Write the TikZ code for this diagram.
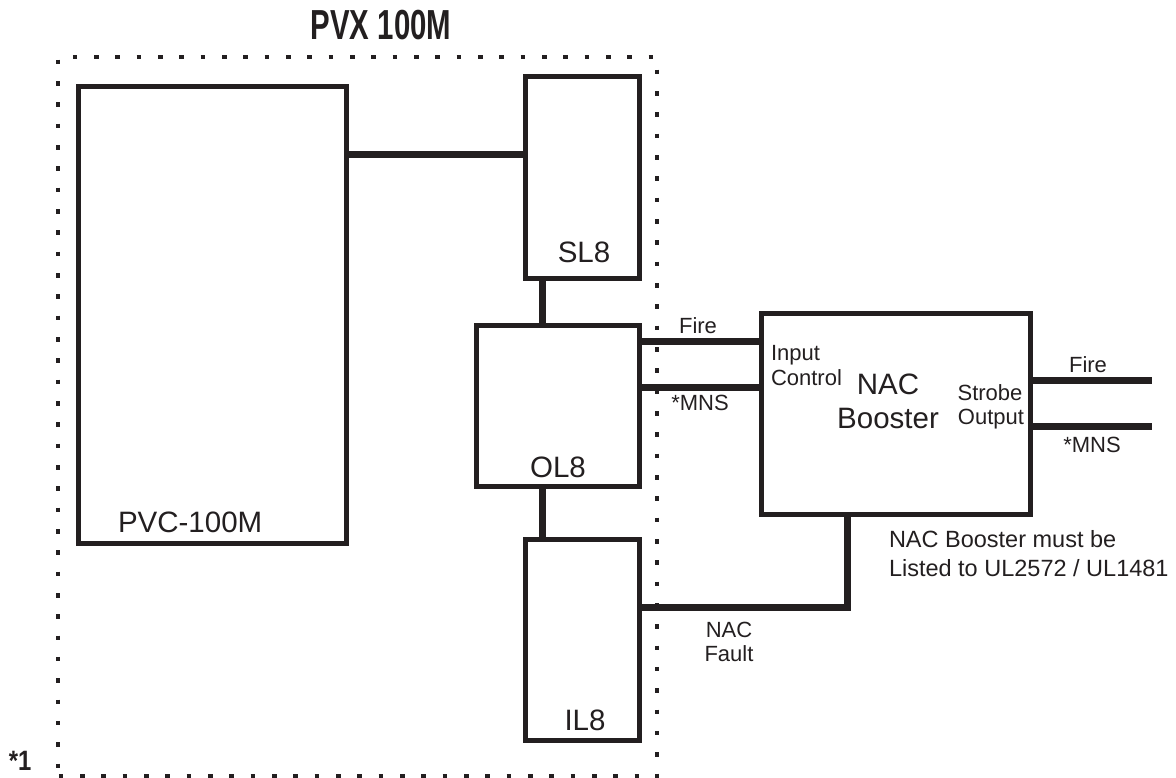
\documentclass[tikz,border=0pt]{standalone}
\usepackage{fontspec}
\setmainfont{Liberation Sans}
\usepackage{graphicx}
\definecolor{ink}{RGB}{35,31,32}
\begin{document}
\begin{tikzpicture}[x=1pt,y=-1pt,
  box/.style={draw=ink,line width=5pt,inner sep=0pt,outer sep=0pt},
  conn/.style={draw=ink,line width=7pt,line join=miter},
  dotborder/.style={draw=ink,line width=4.5pt,dash pattern=on 4.5pt off 16.83pt},
  boxlabel/.style={inner sep=0pt,outer sep=0pt,text=ink,font=\fontsize{29.5}{29.5}\selectfont},
  smalllabel/.style={inner sep=0pt,outer sep=0pt,text=ink,font=\fontsize{22}{22}\selectfont},
  notelabel/.style={inner sep=0pt,outer sep=0pt,text=ink,font=\fontsize{23.5}{23.5}\selectfont}]
\useasboundingbox (0,0) rectangle (1176,778);

% dotted enclosure
\draw[dotborder] (72.75,57) -- (653.5,57);
\draw[dotborder] (58,59.75) -- (58,767.5);
\draw[dotborder] (657,69.75) -- (657,778.5);
\draw[dotborder] (58.75,776) -- (639.5,776);

% title
\node[inner sep=0pt,text=ink,anchor=base] (title) at (381,40)
  {\scalebox{0.70}[1]{\fontsize{42}{42}\selectfont\bfseries PVX 100M}};
\node[inner sep=0pt,text=ink,anchor=base] (note1) at (20,770)
  {\scalebox{0.85}[1]{\fontsize{28}{28}\selectfont\bfseries *1}};

% boxes
\node[box,minimum width=268pt,minimum height=456pt] (pvc) at (212,315) {};
\node[box,minimum width=114pt,minimum height=202pt] (sl8) at (582,178) {};
\node[box,minimum width=163pt,minimum height=161pt] (ol8) at (557.5,405.5) {};
\node[box,minimum width=114pt,minimum height=201pt] (il8) at (582,639.5) {};
\node[box,minimum width=269pt,minimum height=201pt] (nac) at (895.5,413.5) {};

% box labels
\node[boxlabel,anchor=base west] (pvclbl) at (118,532) {PVC-100M};
\node[boxlabel,anchor=base] (sl8lbl) at (584,262) {SL8};
\node[boxlabel,anchor=base] (ol8lbl) at (558,477) {OL8};
\node[boxlabel,anchor=base] (il8lbl) at (585,730) {IL8};
\node[boxlabel,anchor=base] (naclbl1) at (888,394) {NAC};
\node[boxlabel,anchor=base] (naclbl2) at (888,428) {Booster};
\node[smalllabel,anchor=base west] (inlbl1) at (771,360) {Input};
\node[smalllabel,anchor=base west] (inlbl2) at (771,385) {Control};
\node[smalllabel,anchor=base] (outlbl1) at (990,400) {Strobe};
\node[smalllabel,anchor=base] (outlbl2) at (991,424) {Output};

% helper coordinates
\coordinate (ya) at (0,155);
\coordinate (xa) at (542,0);
\coordinate (yfire) at (0,341);
\coordinate (ymns) at (0,387);
\coordinate (yofire) at (0,380);
\coordinate (yomns) at (0,426);
\coordinate (ofireend) at (1152,380);
\coordinate (omnsend) at (1152,426);
\coordinate (fcorner) at (847,607);

% connectors
\draw[conn] (pvc.east |- ya) -- (sl8.west |- ya);
\draw[conn] (sl8.south -| xa) -- (ol8.north -| xa);
\draw[conn] (ol8.south -| xa) -- (il8.north -| xa);
\draw[conn] (ol8.east |- yfire) -- (nac.west |- yfire);
\draw[conn] (ol8.east |- ymns) -- (nac.west |- ymns);
\draw[conn] (nac.east |- yofire) -- (ofireend);
\draw[conn] (nac.east |- yomns) -- (omnsend);
\draw[conn] (il8.east |- fcorner) -- (fcorner) -- (nac.south -| fcorner);

% connector labels
\node[smalllabel,anchor=base] (fire1) at (698,333) {Fire};
\node[smalllabel,anchor=base] (mns1) at (700,410) {*MNS};
\node[smalllabel,anchor=base] (fire2) at (1088,372) {Fire};
\node[smalllabel,anchor=base] (mns2) at (1092,452) {*MNS};
\node[smalllabel,anchor=base] (fault1) at (729,637) {NAC};
\node[smalllabel,anchor=base] (fault2) at (729,661) {Fault};
\node[notelabel,anchor=base west] (must1) at (889,547) {NAC Booster must be};
\node[notelabel,anchor=base west] (must2) at (889,576) {Listed to UL2572 / UL1481};
\end{tikzpicture}
\end{document}
